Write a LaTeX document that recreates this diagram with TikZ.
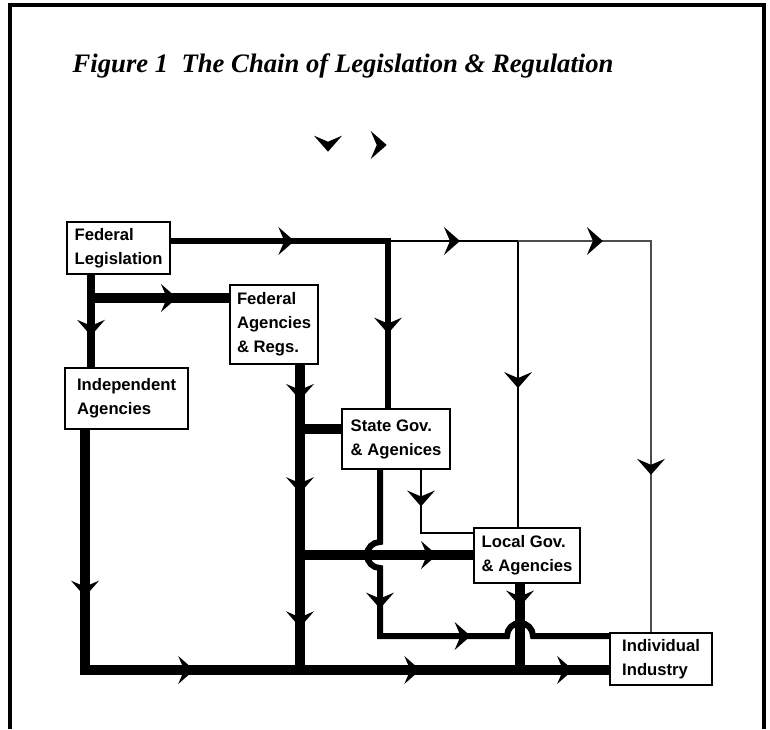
\documentclass[tikz,border=0pt]{standalone}
\usepackage{fontspec}
\setmainfont{Liberation Serif}
\newfontfamily\boxfont{Liberation Sans}
\usetikzlibrary{arrows.meta,decorations.markings}

\tikzset{
  chev/.tip={Stealth[length=12pt,width=21pt,inset=4.5pt,line width=0pt,color=black,fill=black]},
  arr at/.style={postaction={decorate,decoration={markings,mark=at position #1 with {\arrow{chev}}}}},
  unit/.style={draw,fill=white,line width=1.6pt,align=left,anchor=north west,inner xsep=2pt,inner ysep=0pt,font=\boxfont\bfseries\fontsize{12.5}{18}\selectfont},
  heavy/.style={line width=7.5pt},
  medium/.style={line width=5pt},
  light/.style={line width=2.2pt},
  faint/.style={line width=1.5pt,draw=black!70},
}

\begin{document}
\begin{tikzpicture}[x=0.75pt,y=0.75pt,yscale=-1,xscale=1]
\path[use as bounding box] (0,0) rectangle (770,729);

%Shape: Frame [open at the bottom]
\draw [line width=3pt] (10,729) -- (10,5) -- (764,5) -- (764,729) ;

%Text Node [title]
\node [anchor=base west,font=\bfseries\itshape\fontsize{20}{22}\selectfont] (title) at (68,72) {Figure 1\ \ The Chain of Legislation \& Regulation};

%Shape: lone tips
\path [arr at=0.99] (328,120) -- (328,152) ;
\path [arr at=0.99] (360,145) -- (387,145) ;

%Shape: Rectangle [boxes]
\node [unit,minimum width=77.25pt,minimum height=39pt] (fedleg) at (66,221) {Federal\\Legislation};
\node [unit,minimum width=66pt,minimum height=59.25pt] (fedag) at (229,284) {Federal\\Agencies\\\& Regs.};
\node [unit,minimum width=92.25pt,minimum height=45.75pt] (indep) at (64,367) {Independent\\Agencies};
\node [unit,minimum width=81pt,minimum height=45pt] (stategov) at (341,408) {State Gov.\\\& Agenices};
\node [unit,minimum width=79.5pt,minimum height=41.25pt] (localgov) at (473,527) {Local Gov.\\\& Agencies};
\node [unit,minimum width=76.5pt,minimum height=39pt] (indus) at (609,632) {Individual\\Industry};

%Junctions
\coordinate (jA) at (388,241);
\coordinate (jB) at (518,241);
\coordinate (jC) at (651,241);
\coordinate (jH) at (91,298);
\coordinate (jJ) at (300,429);
\coordinate (jK) at (300,555);
\coordinate (bL) at (85,670);
\coordinate (bI) at (300,670);
\coordinate (bP) at (520,670);
\coordinate (nA) at (380,636);
\coordinate (oC) at (421,533);

%Straight Lines [top run]
\draw [medium,arr at=0.321,arr at=0.806] (fedleg.east |- jA) -- (jA) -- (stategov.north -| jA) ;
\draw [light,arr at=0.173,arr at=0.666] (jA) -- (jB) -- (localgov.north -| jB) ;
\draw [faint,arr at=0.162,arr at=0.700] (jB) -- (jC) -- (indus.north -| jC) ;

%Straight Lines [federal side]
\draw [line width=6pt,arr at=0.66] (fedleg.south -| jH) -- (indep.north -| jH) ;
\draw [heavy,arr at=0.623] (jH) -- (fedag.west |- jH) ;
\draw [heavy,arr at=0.114,arr at=0.42,arr at=0.86] (fedag.south -| bI) -- (bI) ;
\draw [heavy] (jJ) -- (stategov.west |- jJ) ;
\draw [heavy,arr at=0.792] (jK) -- (localgov.west |- jK) ;

%Straight Lines [bottom run]
\draw [heavy,arr at=0.218,arr at=0.457,arr at=0.753,arr at=0.953] (indep.south -| bL) -- (bL) -- (indus.west |- bL) ;
\draw [heavy,arr at=0.26] (localgov.south -| bP) -- (bP) ;

%Straight Lines [state to local]
\draw [line width=2pt,arr at=0.316] (stategov.south -| oC) -- (oC) -- (localgov.west |- oC) ;

%Shape: Path with hops [state to industry]
\draw [line width=4.5pt,arr at=0.361,arr at=0.639] (stategov.south -| nA) -- (380,542) .. controls (372.8,542) and (367,547.8) .. (367,555) .. controls (367,562.2) and (372.8,568) .. (380,568) -- (nA) -- (507,636) .. controls (507,628.8) and (512.8,623) .. (520,623) .. controls (527.2,623) and (533,628.8) .. (533,636) -- (indus.west |- nA) ;

\end{tikzpicture}
\end{document}
